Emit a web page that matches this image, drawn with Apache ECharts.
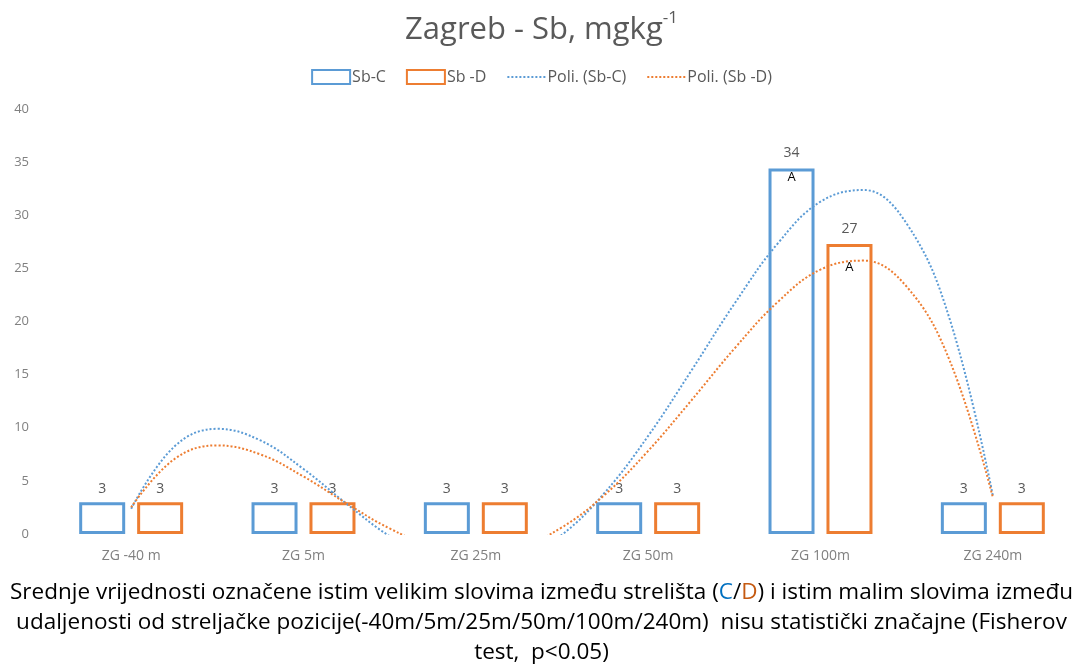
<!DOCTYPE html>
<html>
<head>
<meta charset="utf-8">
<script src="https://cdn.jsdelivr.net/npm/echarts@6/dist/echarts.min.js"></script>
<style>html,body{margin:0;padding:0;background:#fff;}#main{width:1083px;height:665px;}</style>
</head>
<body>
<div id="main"></div>
<script>
// ---- data ----
const categories = ['ZG -40 m', 'ZG 5m', 'ZG 25m', 'ZG 50m', 'ZG 100m', 'ZG 240m'];
const sbC = [3, 3, 3, 3, 34.4, 3];
const sbD = [3, 3, 3, 3, 27.3, 3];
const lettersC = ['', '', '', '', 'A', ''];
const lettersD = ['', '', '', '', 'A', ''];
const yTicks = [0, 5, 10, 15, 20, 25, 30, 35, 40];
// polynomial trendline traces (x in category units)
const trendX = [0, 0.25, 0.5, 0.75, 1, 1.25, 1.5, 1.75, 2, 2.25, 2.5, 2.75, 3, 3.25, 3.5, 3.75, 4, 4.25, 4.5, 4.75, 5];
const trendC = [2.38, 8.22, 9.90, 8.81, 6.12, 2.84, -0.21, -2.38, -3.23, -2.49, -0.07, 3.93, 9.23, 15.36, 21.66, 27.31, 31.28, 32.38, 29.21, 20.21, 3.62];
const trendD = [2.52, 7.04, 8.34, 7.49, 5.41, 2.88, 0.52, -1.16, -1.82, -1.25, 0.63, 3.72, 7.82, 12.56, 17.44, 21.81, 24.89, 25.73, 23.28, 16.31, 3.47];
const names = ['Sb-C', 'Sb -D', 'Poli. (Sb-C)', 'Poli. (Sb -D)'];
const footLines = [
  ['Srednje vrijednosti označene istim velikim slovima između strelišta (', 'C', '/', 'D', ') i istim malim slovima između'],
  ['udaljenosti od streljačke pozicije(-40m/5m/25m/50m/100m/240m)  nisu statistički značajne (Fisherov'],
  ['test,  p<0.05)']
];

// ---- styling ----
const BLUE = '#5B9BD5', ORANGE = '#ED7D31';
const FONT = '"Open Sans", Lato, sans-serif';
const chart = echarts.init(document.getElementById('main'), null, {renderer: 'canvas'});

function barData(vals, letters, aGap) {
  return vals.map((v, i) => letters[i] ? {
    value: v,
    label: {position: 'insideTop', distance: 0, offset: [0, -26],
      formatter: () => '{v|' + Math.round(v) + '}\n{a|' + letters[i] + '}',
      rich: {v: {fontSize: 14, color: '#595959', fontFamily: FONT, lineHeight: 22},
             a: {fontSize: 13, color: '#000', fontFamily: FONT, lineHeight: 14, padding: [aGap, 0, 0, 0]}}}
  } : v);
}

function barSeries(name, vals, letters, color, aGap) {
  return {
    name, type: 'bar', data: barData(vals, letters, aGap),
    barWidth: 46, barGap: '26%',
    itemStyle: {color: '#fff', borderColor: color, borderWidth: 3},
    label: {show: true, position: 'top', distance: 6, color: '#595959', fontSize: 14, fontFamily: FONT,
      formatter: p => String(Math.round(p.value))},
    z: 2
  };
}

function trendSeries(name, ys, color) {
  return {
    name, type: 'line', xAxisIndex: 1, smooth: 0.4, symbol: 'none', showSymbol: false,
    data: trendX.map((x, i) => [x, ys[i]]),
    lineStyle: {color, width: 2, type: [2, 2]},
    itemStyle: {color},
    clip: true, z: 3, silent: true
  };
}

const footGraphics = footLines.map((parts, li) => {
  let text;
  if (parts.length > 1) {
    text = '{t|' + parts[0] + '}{c|' + parts[1] + '}{t|' + parts[2] + '}{d|' + parts[3] + '}{t|' + parts[4] + '}';
  } else {
    text = '{t|' + parts[0] + '}';
  }
  return {
    type: 'text', left: 'center', top: 581 + li * 30,
    style: {
      text,
      rich: {
        t: {fontSize: 22.5, fontFamily: FONT, fill: '#000', color: '#000'},
        c: {fontSize: 22.5, fontFamily: FONT, fill: '#0070C0', color: '#0070C0'},
        d: {fontSize: 22.5, fontFamily: FONT, fill: '#C55A11', color: '#C55A11'}
      }
    }
  };
});

chart.setOption({
  animation: false,
  backgroundColor: '#fff',
  title: {
    left: 'center', top: 5,
    text: '{m|Zagreb - Sb, mgkg}{s|-1}',
    textStyle: {
      rich: {
        m: {fontSize: 31, fontWeight: 'normal', color: '#595959', fontFamily: FONT, padding: [5, 0, 0, 0], verticalAlign: 'bottom'},
        s: {fontSize: 17, fontWeight: 'normal', color: '#595959', fontFamily: FONT, verticalAlign: 'top'}
      }
    }
  },
  legend: {
    top: 64, left: 'center', itemWidth: 38, itemHeight: 14, itemGap: 20,
    textStyle: {color: '#595959', fontSize: 16, fontFamily: FONT, padding: [0, 0, 0, -3]},
    data: [
      {name: names[0], icon: 'rect'},
      {name: names[1], icon: 'rect'},
      {name: names[2], itemStyle: {opacity: 0}},
      {name: names[3], itemStyle: {opacity: 0}}
    ]
  },
  grid: {left: 45, right: 4, top: 109, bottom: 131, containLabel: false},
  xAxis: [
    {type: 'category', data: categories, axisLine: {show: false}, axisTick: {show: false},
     axisLabel: {color: '#808080', fontSize: 14, fontFamily: FONT, margin: 15}},
    {type: 'value', min: -0.5, max: 5.5, show: false}
  ],
  yAxis: {
    type: 'value', min: yTicks[0], max: yTicks[yTicks.length - 1], interval: 5,
    axisLine: {show: false}, axisTick: {show: false}, splitLine: {show: false},
    axisLabel: {color: '#808080', fontSize: 13, fontFamily: FONT, margin: 16}
  },
  graphic: footGraphics,
  series: [
    barSeries(names[0], sbC, lettersC, BLUE, 11),
    barSeries(names[1], sbD, lettersD, ORANGE, 41),
    trendSeries(names[2], trendC, BLUE),
    trendSeries(names[3], trendD, ORANGE)
  ]
});
</script>
</body>
</html>
